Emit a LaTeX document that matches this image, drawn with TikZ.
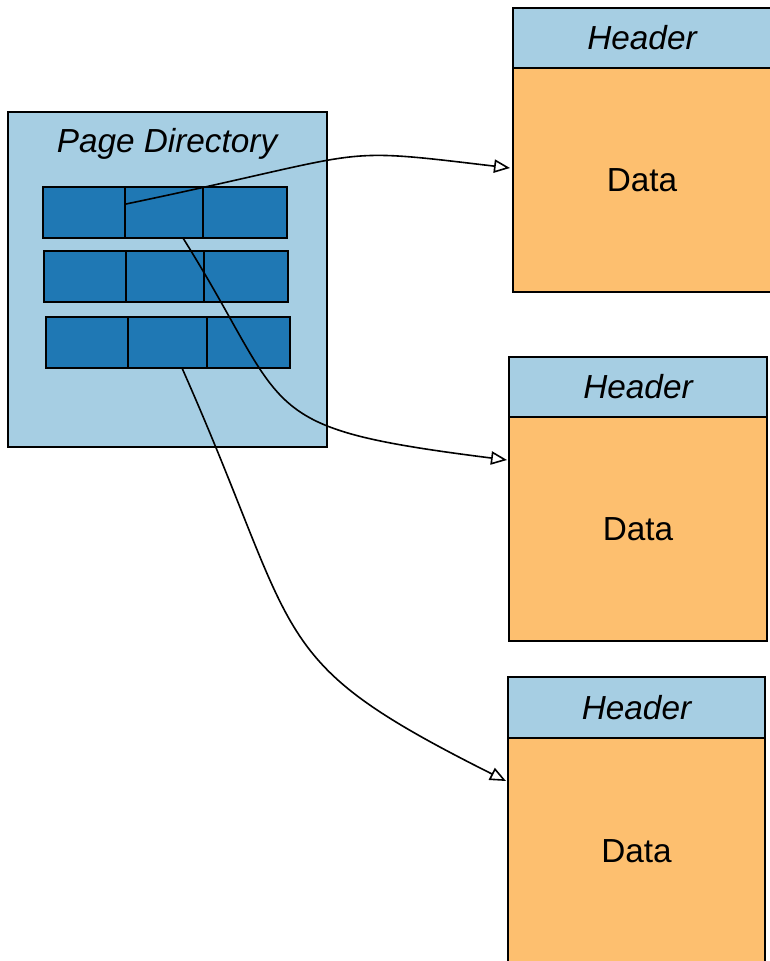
\documentclass[tikz,border=0pt]{standalone}
\usepackage{fontspec}
\setmainfont{Liberation Sans}
\usetikzlibrary{arrows.meta,calc}
\definecolor{lblue}{HTML}{A6CEE3}
\definecolor{dblue}{HTML}{1F78B4}
\definecolor{lorange}{HTML}{FDBF6F}
\begin{document}
\begin{tikzpicture}[x=0.75pt,y=-0.75pt,
  box/.style={draw=black, line width=1.2pt, inner sep=0pt, outer sep=0pt, anchor=north west,
    font=\fontsize{25}{29}\selectfont},
  wh/.style 2 args={minimum width=#1*0.75pt, minimum height=#2*0.75pt},
  cell/.style={box, fill=dblue},
  hdr/.style={box, fill=lblue, font=\fontsize{25}{29}\selectfont\itshape},
  dat/.style={box, fill=lorange},
  conn/.style={draw=black, line width=1.2pt, -{Triangle[open,length=12pt,width=10pt]}}
]
\useasboundingbox (0,0) rectangle (769,961);

% page directory
\node[box, fill=lblue, wh={319}{335}] (dir) at (8,112) {};
\node[font=\fontsize{25}{29}\selectfont\itshape, inner sep=0pt] (dirtitle) at (167,144) {Page Directory};

% row 1
\node[cell, wh={82}{51}] (r1a) at (43,187) {};
\node[cell, wh={78}{51}] (r1b) at (125,187) {};
\node[cell, wh={84}{51}] (r1c) at (203,187) {};
% row 2
\node[cell, wh={82}{51}] (r2a) at (44,251) {};
\node[cell, wh={78}{51}] (r2b) at (126,251) {};
\node[cell, wh={84}{51}] (r2c) at (204,251) {};
% row 3
\node[cell, wh={82}{51}] (r3a) at (46,317) {};
\node[cell, wh={79}{51}] (r3b) at (128,317) {};
\node[cell, wh={83}{51}] (r3c) at (207,317) {};

% pages
\node[hdr, wh={258}{60}] (h1) at (513,8) {Header};
\node[dat, wh={258}{224}] (d1) at (513,68) {Data};
\node[hdr, wh={258}{60}] (h2) at (509,357) {Header};
\node[dat, wh={258}{224}] (d2) at (509,417) {Data};
\node[hdr, wh={257}{61}] (h3) at (508,677) {Header};
\node[dat, wh={257}{226}] (d3) at (508,738) {Data};

% connectors
\draw[conn] ($(r1b.west)+(1,-8.5)$) .. controls (380,151) and (328,146.4) .. ($(d1.west)+(-3,-12)$);
\draw[conn] ($(r1b.south)+(19,0)$) .. controls (293,414) and (250,427.5) .. ($(d2.west)+(-2,-69)$);
\draw[conn] ($(r3b.south)+(14.5,0)$) .. controls (304.5,644.5) and (262,658.6) .. ($(d3.west)+(-2,-70)$);
\end{tikzpicture}
\end{document}
